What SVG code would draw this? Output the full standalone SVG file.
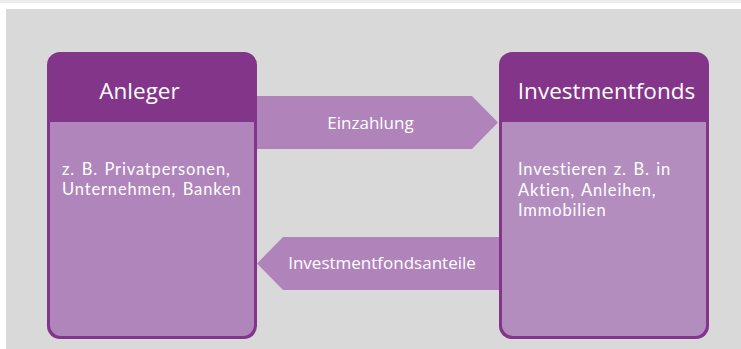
<svg xmlns="http://www.w3.org/2000/svg" width="741" height="349" viewBox="0 0 741 349">
  <style>
    .hdr { fill: #833589; }
    .body { fill: #b085bb; }
    .arrow { fill: #b084bb; }
    text { font-family: "Open Sans", "Noto Sans", sans-serif; fill: #ffffff; }
    .title { font-size: 22.5px; text-anchor: middle; }
    .lbl { font-size: 17px; text-anchor: middle; }
    .txt { font-family: Lato, "Open Sans", sans-serif; font-size: 16.5px; letter-spacing: 0.85px; word-spacing: 1.5px; }
  </style>
  <!-- page background -->
  <rect x="0" y="0" width="741" height="349" fill="#ffffff"/>
  <rect x="0" y="0" width="741" height="3" fill="#ececec"/>
  <rect x="6" y="9" width="735" height="340" fill="#d9d9d9"/>

  <!-- connectors -->
  <g id="connectors">
    <g id="einzahlung">
      <polygon class="arrow" points="256,96 472,96 498,122.5 472,149 256,149"/>
      <text class="lbl" x="370.5" y="129">Einzahlung</text>
    </g>
    <g id="anteile">
      <polygon class="arrow" points="500,237 283,237 257,263.5 283,290 500,290"/>
      <text class="lbl" x="382" y="268.5">Investmentfondsanteile</text>
    </g>
  </g>

  <!-- investor node -->
  <g id="anleger">
    <rect class="hdr" x="47" y="52" width="210" height="287" rx="13"/>
    <path class="body" d="M50,122 H254 V325 a11,11 0 0 1 -11,11 H61 a11,11 0 0 1 -11,-11 Z"/>
    <text class="title" x="139.5" y="99">Anleger</text>
    <text class="txt" x="62" y="175">z. B. Privatpersonen,</text>
    <text class="txt" x="62" y="195">Unternehmen, Banken</text>
  </g>

  <!-- fund node -->
  <g id="investmentfonds">
    <rect class="hdr" x="499" y="52" width="210" height="287" rx="13"/>
    <path d="M502,122 H706 V325 a11,11 0 0 1 -11,11 H513 a11,11 0 0 1 -11,-11 Z" fill="#b48dbf"/>
    <text class="title" x="606.5" y="98.5">Investmentfonds</text>
    <text class="txt" x="518" y="175">Investieren z. B. in</text>
    <text class="txt" x="518" y="195.5">Aktien, Anleihen,</text>
    <text class="txt" x="518" y="215.5">Immobilien</text>
  </g>
</svg>
